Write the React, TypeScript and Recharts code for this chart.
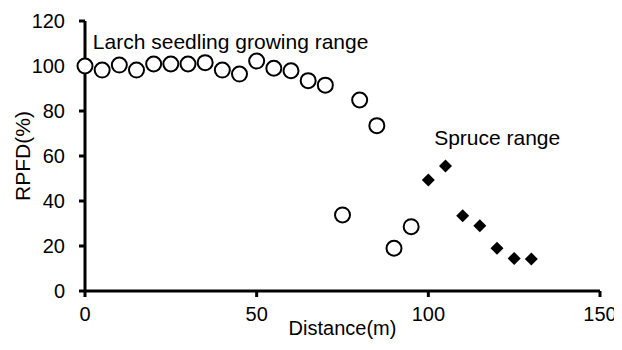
import React from "react";
import { ScatterChart, Scatter, XAxis, YAxis, ReferenceDot, Label } from "recharts";

const larchDistance = [0, 5, 10, 15, 20, 25, 30, 35, 40, 45, 50, 55, 60, 65, 70, 75, 80, 85, 90, 95];
const larchRpfd = [100, 98.2, 100.4, 98.2, 100.9, 100.9, 100.9, 101.5, 98.2, 96.4, 102.2, 99, 97.9, 93.5, 91.5, 33.8, 84.9, 73.5, 19, 28.6];
const spruceDistance = [100, 105, 110, 115, 120, 125, 130];
const spruceRpfd = [49.3, 55.6, 33.5, 29, 19, 14.5, 14.2];
const xTicks = [0, 50, 100, 150];
const yTicks = [0, 20, 40, 60, 80, 100, 120];

const larch = larchDistance.map((d, i) => ({ distance: d, rpfd: larchRpfd[i] }));
const spruce = spruceDistance.map((d, i) => ({ distance: d, rpfd: spruceRpfd[i] }));

const font = "'Liberation Sans', Arial, sans-serif";
const tickStyle = { fill: "#000", fontSize: 20, fontFamily: font };
const axisStroke = { stroke: "#000", strokeWidth: 3 };

const OpenCircle = (props: any) => (
  <circle cx={props.cx} cy={props.cy} r={7.5} fill="#fff" stroke="#000" strokeWidth={2} />
);

const Diamond = (props: any) => {
  const { cx, cy } = props;
  const h = 6.5;
  return (
    <polygon
      points={`${cx},${cy - h} ${cx + h},${cy} ${cx},${cy + h} ${cx - h},${cy}`}
      fill="#000"
    />
  );
};

export default function App() {
  return (
    <div style={{ margin: -8 }}>
      <ScatterChart width={622} height={350} margin={{ top: 21, right: 22, bottom: 0, left: 0 }}>
        <XAxis
          type="number"
          dataKey="distance"
          domain={[0, 150]}
          ticks={xTicks}
          height={59}
          axisLine={axisStroke}
          tickLine={axisStroke}
          tickSize={6}
          tickMargin={10}
          tick={tickStyle}
        >
          <Label
            value="Distance(m)"
            position="insideBottom"
            offset={15}
            style={{ fill: "#000", fontSize: 20, fontFamily: font }}
          />
        </XAxis>
        <YAxis
          type="number"
          dataKey="rpfd"
          domain={[0, 120]}
          ticks={yTicks}
          width={85}
          axisLine={axisStroke}
          tickLine={axisStroke}
          tickSize={6}
          tickMargin={14}
          tick={tickStyle}
        >
          <Label
            content={(p: any) => {
              const vb = p.viewBox;
              const x = vb.x + 22;
              const y = vb.y + vb.height / 2;
              return (
                <text
                  x={x}
                  y={y}
                  transform={`rotate(-90, ${x}, ${y})`}
                  textAnchor="middle"
                  dominantBaseline="central"
                  fill="#000"
                  fontSize={21}
                  fontFamily={font}
                >
                  RPFD(%)
                </text>
              );
            }}
          />
        </YAxis>
        <ReferenceDot
          x={2}
          y={111}
          r={1}
          fill="none"
          stroke="none"
          label={{
            value: "Larch seedling growing range",
            position: "right",
            offset: 0,
            style: { fill: "#000", fontSize: 21, fontFamily: font },
          }}
        />
        <ReferenceDot
          x={101.4}
          y={68}
          r={1}
          fill="none"
          stroke="none"
          label={{
            value: "Spruce range",
            position: "right",
            offset: 0,
            style: { fill: "#000", fontSize: 21, fontFamily: font },
          }}
        />
        <Scatter data={larch} shape={OpenCircle} isAnimationActive={false} />
        <Scatter data={spruce} shape={Diamond} isAnimationActive={false} />
      </ScatterChart>
    </div>
  );
}
